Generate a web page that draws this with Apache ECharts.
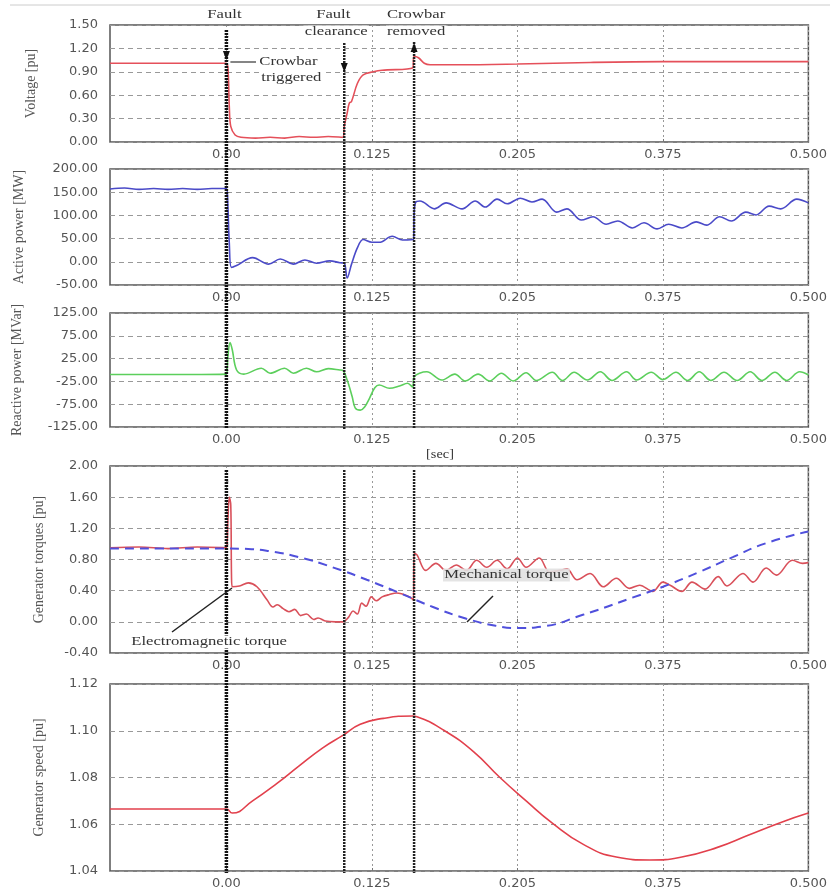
<!DOCTYPE html>
<html><head><meta charset="utf-8">
<script src="https://cdn.jsdelivr.net/npm/echarts@6/dist/echarts.min.js"></script>
<style>html,body{margin:0;padding:0;background:#fff}#c{width:830px;height:896px}</style>
</head><body><div id="c"></div>
<script>
// x positions are in "tick units": tick k sits at value k and carries label xTickLabels[k]
const xTickValues = [0, 1, 2, 3, 4];
const xTickLabels = ['0.00', '0.125', '0.205', '0.375', '0.500'];
const eventX = [0, 0.81, 1.29]; // fault, fault clearance, crowbar removed

const voltage = [[-0.8,1.01],[-0.4,1.01],[0,1.01],[0.012,0.9],[0.02,0.45],[0.03,0.2],[0.06,0.09],[0.1,0.06],[0.2,0.05],[0.3,0.06],[0.4,0.05],[0.5,0.07],[0.6,0.06],[0.7,0.07],[0.8,0.06],[0.81,0.2],[0.83,0.37],[0.845,0.5],[0.86,0.52],[0.9,0.75],[0.94,0.86],[1.01,0.9],[1.07,0.92],[1.28,0.95],[1.29,1.1],[1.32,1.08],[1.36,1.01],[1.4,0.99],[1.6,0.99],[2.0,1.0],[2.5,1.02],[3.0,1.03],[3.5,1.03],[4.0,1.03]];

const activePower = [[-0.8,157],[-0.7,159],[-0.6,156],[-0.5,158],[-0.4,156],[-0.3,158],[-0.2,156],[-0.1,158],[0,158],[0.01,120],[0.02,40],[0.035,-12],[0.07,-8],[0.18,9],[0.29,-5],[0.37,6],[0.46,-5],[0.54,4],[0.62,-3],[0.71,2],[0.78,-2],[0.81,-3],[0.83,-35],[0.86,-5],[0.9,30],[0.94,48],[1.0,42],[1.05,42],[1.14,55],[1.21,47],[1.285,48],[1.29,100],[1.30,128],[1.33,131],[1.43,114],[1.51,127],[1.62,114],[1.71,131],[1.78,118],[1.86,135],[1.93,125],[2.02,137],[2.10,129],[2.17,135],[2.27,107],[2.34,114],[2.44,90],[2.52,97],[2.61,81],[2.69,88],[2.79,73],[2.87,84],[2.96,71],[3.04,81],[3.13,73],[3.23,86],[3.30,79],[3.39,97],[3.47,88],[3.57,107],[3.64,101],[3.73,120],[3.81,114],[3.92,135],[4.0,127]];

const reactivePower = [[-0.8,-10],[-0.4,-10],[0,-9],[0.01,30],[0.025,60],[0.04,45],[0.07,0],[0.12,-9],[0.24,4],[0.30,-7],[0.40,4],[0.46,-7],[0.55,4],[0.62,-4],[0.70,3],[0.78,0],[0.8,-1],[0.83,-22],[0.865,-59],[0.885,-83],[0.92,-88],[0.95,-81],[0.985,-61],[1.02,-39],[1.05,-33],[1.12,-40],[1.19,-35],[1.245,-29],[1.28,-37],[1.29,-15],[1.377,-4],[1.48,-22],[1.57,-9],[1.64,-24],[1.73,-9],[1.81,-24],[1.89,-7],[1.97,-24],[2.06,-6],[2.13,-23],[2.24,-5],[2.31,-23],[2.39,-5],[2.48,-22],[2.57,-4],[2.65,-23],[2.75,-4],[2.82,-22],[2.92,-5],[3.00,-21],[3.09,-5],[3.17,-23],[3.25,-4],[3.33,-23],[3.42,-5],[3.51,-23],[3.60,-4],[3.68,-23],[3.77,-5],[3.85,-23],[3.94,-4],[4.0,-11]];

const emTorque = [[-0.8,0.95],[-0.6,0.96],[-0.4,0.94],[-0.2,0.96],[0,0.95],[0.01,1.3],[0.02,1.6],[0.03,1.5],[0.035,0.6],[0.04,0.45],[0.09,0.46],[0.15,0.5],[0.21,0.45],[0.28,0.28],[0.32,0.19],[0.35,0.22],[0.39,0.17],[0.43,0.13],[0.47,0.16],[0.51,0.08],[0.55,0.1],[0.6,0.03],[0.63,0.05],[0.68,0.01],[0.75,0.0],[0.8,0.0],[0.84,0.06],[0.87,0.14],[0.9,0.1],[0.93,0.24],[0.96,0.2],[0.996,0.32],[1.03,0.27],[1.07,0.32],[1.12,0.35],[1.17,0.37],[1.26,0.32],[1.285,0.28],[1.29,0.88],[1.31,0.86],[1.37,0.66],[1.44,0.75],[1.51,0.66],[1.58,0.73],[1.65,0.66],[1.72,0.79],[1.79,0.70],[1.86,0.79],[1.93,0.68],[2.0,0.82],[2.06,0.70],[2.15,0.82],[2.22,0.64],[2.29,0.66],[2.34,0.68],[2.41,0.54],[2.50,0.62],[2.59,0.45],[2.68,0.56],[2.77,0.43],[2.84,0.47],[2.93,0.39],[3.0,0.51],[3.05,0.47],[3.13,0.39],[3.20,0.51],[3.29,0.42],[3.38,0.58],[3.44,0.46],[3.55,0.62],[3.62,0.51],[3.71,0.69],[3.78,0.60],[3.89,0.79],[3.96,0.75],[4.0,0.76]];

const mechTorque = [[-0.8,0.94],[0,0.94],[0.15,0.935],[0.3,0.905],[0.5,0.83],[0.73,0.70],[0.965,0.54],[1.19,0.37],[1.42,0.19],[1.65,0.04],[1.85,-0.05],[2.0,-0.08],[2.17,-0.06],[2.45,0.09],[2.79,0.31],[3.0,0.45],[3.25,0.64],[3.48,0.83],[3.71,1.01],[4.0,1.16]];

const speed = [[-0.8,1.0665],[0,1.0665],[0.04,1.0648],[0.18,1.070],[0.35,1.0776],[0.5,1.085],[0.66,1.0926],[0.8,1.098],[0.92,1.1028],[1.08,1.1053],[1.28,1.1063],[1.31,1.106],[1.5,1.1],[1.7,1.091],[1.88,1.08],[2.06,1.07],[2.24,1.0605],[2.45,1.0515],[2.68,1.046],[2.91,1.0447],[3.13,1.046],[3.37,1.050],[3.59,1.0554],[3.82,1.061],[4.0,1.0648]];

const panels = [
  {name:'Voltage [pu]', min:0, max:1.5, interval:0.3, gap:72, top:25, height:117, data:voltage, color:'#e5505a', smooth:0.35},
  {name:'Active power [MW]', min:-50, max:200, interval:50, gap:84, top:169, height:116, data:activePower, color:'#4a4ac8', smooth:0.35},
  {name:'Reactive power [MVar]', min:-125, max:125, interval:50, gap:86, top:313, height:114, data:reactivePower, color:'#5ccf5c', smooth:0.35},
  {name:'Generator torques [pu]', min:-0.4, max:2.0, interval:0.4, gap:64, top:466, height:187, data:emTorque, color:'#d9505a', smooth:0.35},
  {name:'Generator speed [pu]', min:1.04, max:1.12, interval:0.02, gap:64, top:684, height:187, data:speed, color:'#e2404c', smooth:0.5}
];

const chart = echarts.init(document.getElementById('c'), null, {renderer:'canvas'});
const LEFT = 110, RIGHT = 21;
const sansFont = 'DejaVu Sans';
const serifFont = 'Liberation Serif';

const option = {
  animation: false,
  backgroundColor: '#fff',
  grid: panels.map(p => ({left:LEFT, right:RIGHT, top:p.top, height:p.height, show:true, borderColor:'#555', borderWidth:1.5, backgroundColor:'#fff'})),
  xAxis: panels.map((p,i) => ({
    gridIndex:i, type:'value', min:-0.8, max:4,
    axisLine:{show:false},
    axisTick:{show:true, inside:true, length:3, customValues:xTickValues, lineStyle:{color:'#777'}},
    axisLabel:{customValues:xTickValues, formatter:v => { const k = xTickValues.indexOf(v); return k >= 0 ? xTickLabels[k] : ''; }, fontSize:13, color:'#555', margin:6, fontFamily:sansFont},
    splitLine:{show:true, lineStyle:{type:[2,3], color:'#999', width:1}}
  })),
  yAxis: panels.map((p,i) => ({
    gridIndex:i, type:'value', min:p.min, max:p.max, interval:p.interval,
    name:p.name, nameLocation:'middle', nameGap:p.gap, nameRotate:90,
    nameTextStyle:{fontFamily:serifFont, fontSize:14, color:'#555'},
    axisLine:{show:false},
    axisTick:{show:true, inside:true, length:3, lineStyle:{color:'#777'}},
    minorTick:{show:true, splitNumber:2, length:2, lineStyle:{color:'#888'}},
    axisLabel:{formatter:v => v.toFixed(2), fontSize:13, color:'#555', margin:12, fontFamily:sansFont},
    splitLine:{show:true, lineStyle:{type:[5,4], color:'#999', width:1}}
  })),
  series: panels.map((p,i) => ({
    type:'line', xAxisIndex:i, yAxisIndex:i, data:p.data, showSymbol:false, symbol:'none',
    smooth:p.smooth, lineStyle:{color:p.color, width:1.6}, z:3
  })).concat([{
    type:'line', xAxisIndex:3, yAxisIndex:3, data:mechTorque, showSymbol:false, symbol:'none',
    smooth:0.5, lineStyle:{color:'#5050dc', width:2, type:[9,6]}, z:4
  }])
};
chart.setOption(option);

const px = v => chart.convertToPixel({xAxisIndex:0}, v);
const [xF, xC, xR] = eventX.map(px);
const g3Bot = panels[2].top + panels[2].height;
const g4Top = panels[3].top, g5Bot = panels[4].top + panels[4].height;
const lineEl = (x1,y1,x2,y2,w,color,dash) => ({type:'line', shape:{x1,y1,x2,y2}, style:{stroke:color, lineWidth:w, lineDash:dash||null}, z:100});
const txt = (x,y,text,align,bg,scale) => ({type:'text', x, y, scaleX:scale||1.28, z:110,
  style:{text, fontFamily:serifFont, fontSize:13, fill:'#333', align:align||'center', verticalAlign:'middle', backgroundColor:bg||null, padding:bg?[0,1]:0}});
const tri = (x,y,dir) => ({type:'polygon', z:101, shape:{points: dir>0 ? [[x-3.5,y-9],[x+3.5,y-9],[x,y]] : [[x-3.5,y+9],[x+3.5,y+9],[x,y]]}, style:{fill:'#111'}});

const graphics = [
  lineEl(10,5,830,5,1,'#ccc'),
  lineEl(xF,30,xF,g3Bot+2,3.5,'#111',[2,1]),
  lineEl(xC,43,xC,g3Bot+2,2.5,'#222',[2,1]),
  lineEl(xR,42,xR,g3Bot+2,2.5,'#222',[2,1]),
  tri(xF,60,1), tri(xC,72,1), tri(xR,43,-1),
  lineEl(xF,g4Top+4,xF,g5Bot+2,3.5,'#111',[2,1]),
  lineEl(xC,g4Top+4,xC,g5Bot+2,2.5,'#222',[2,1]),
  lineEl(xR,g4Top+4,xR,g5Bot+2,2.5,'#222',[2,1]),
  txt(xF-2,15,'Fault'),
  txt(xC-11,15,'Fault'),
  txt(xC-8,32,'clearance','center','#fff'),
  txt(xR+2,15,'Crowbar'),
  txt(xR+2,32,'removed','center','#fff'),
  lineEl(xF+4,62,256,62,1.2,'#333'),
  txt(258,62,'Crowbar','left','#fff'),
  txt(260,78,'triggered','left','#fff'),
  txt(440,455,'[sec]','center',null,1.1),
  lineEl(172,632,232,588,1.5,'#222'),
  txt(130,642,'Electromagnetic torque','left','#fff'),
  lineEl(493,596,467,622,1.5,'#222'),
  txt(443,575,'Mechanical torque','left','rgba(225,225,225,0.9)')
];
chart.setOption({graphic: graphics});
</script>
</body></html>
